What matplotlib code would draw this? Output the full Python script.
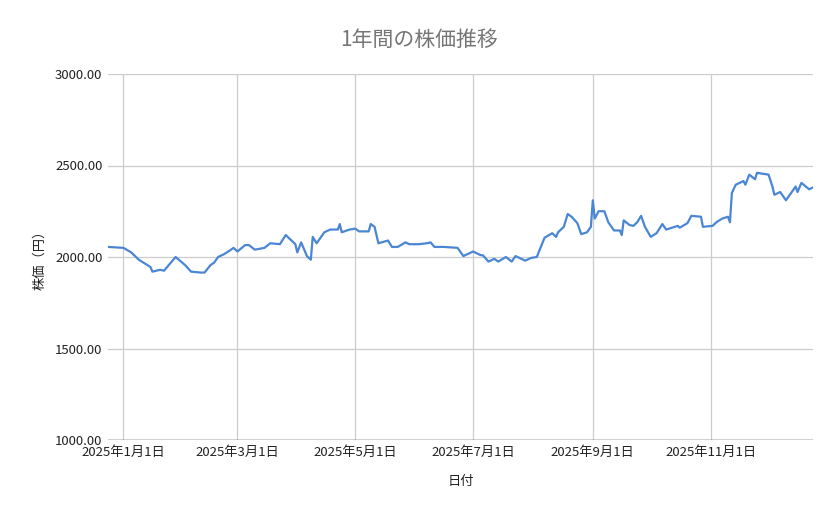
import matplotlib
matplotlib.use('Agg')
import matplotlib.pyplot as plt
import numpy as np
import pandas as pd

plt.rcParams['font.family'] = ['Noto Sans CJK JP', 'DejaVu Sans']

# values (approximate)
dates = [
    '2024-12-24', '2025-01-01', '2025-01-05', '2025-01-09', '2025-01-15', '2025-01-16',
    '2025-01-20', '2025-01-22', '2025-01-28', '2025-02-02', '2025-02-05', '2025-02-10',
    '2025-02-12', '2025-02-15', '2025-02-17', '2025-02-19', '2025-02-22', '2025-02-25',
    '2025-02-27', '2025-03-01', '2025-03-05', '2025-03-07', '2025-03-10', '2025-03-15',
    '2025-03-18', '2025-03-23', '2025-03-26', '2025-03-31', '2025-04-01', '2025-04-03',
    '2025-04-06', '2025-04-08', '2025-04-09', '2025-04-11', '2025-04-15', '2025-04-18',
    '2025-04-22', '2025-04-23', '2025-04-24', '2025-04-28', '2025-05-01', '2025-05-03',
    '2025-05-08', '2025-05-09', '2025-05-11', '2025-05-13', '2025-05-18', '2025-05-20',
    '2025-05-23', '2025-05-27', '2025-05-29', '2025-06-03', '2025-06-07', '2025-06-09',
    '2025-06-11', '2025-06-16', '2025-06-23', '2025-06-26', '2025-07-01', '2025-07-05',
    '2025-07-06', '2025-07-09', '2025-07-12', '2025-07-14', '2025-07-18', '2025-07-21',
    '2025-07-23', '2025-07-28', '2025-07-31', '2025-08-03', '2025-08-07', '2025-08-11',
    '2025-08-13', '2025-08-14', '2025-08-17', '2025-08-19', '2025-08-21', '2025-08-24',
    '2025-08-26', '2025-08-29', '2025-08-31', '2025-09-01', '2025-09-02', '2025-09-04',
    '2025-09-07', '2025-09-09', '2025-09-12', '2025-09-15', '2025-09-16', '2025-09-17',
    '2025-09-20', '2025-09-22', '2025-09-24', '2025-09-26', '2025-09-28', '2025-10-01',
    '2025-10-04', '2025-10-07', '2025-10-09', '2025-10-12', '2025-10-15', '2025-10-16',
    '2025-10-20', '2025-10-21', '2025-10-22', '2025-10-27', '2025-10-28', '2025-11-02',
    '2025-11-04', '2025-11-07', '2025-11-10', '2025-11-11', '2025-11-12', '2025-11-14',
    '2025-11-18', '2025-11-19', '2025-11-21', '2025-11-24', '2025-11-25', '2025-12-01',
    '2025-12-03', '2025-12-04', '2025-12-07', '2025-12-10', '2025-12-15', '2025-12-16',
    '2025-12-18', '2025-12-22', '2025-12-24',
]
prices = [
    2055, 2050, 2025, 1985, 1945, 1920,
    1930, 1925, 2000, 1955, 1920, 1915,
    1915, 1955, 1970, 2000, 2015, 2035,
    2050, 2030, 2065, 2065, 2040, 2050,
    2075, 2070, 2120, 2070, 2025, 2080,
    2005, 1985, 2110, 2075, 2135, 2150,
    2150, 2180, 2135, 2150, 2155, 2140,
    2140, 2180, 2165, 2075, 2090, 2055,
    2055, 2080, 2070, 2070, 2075, 2080,
    2055, 2055, 2050, 2005, 2030, 2010,
    2010, 1975, 1990, 1975, 2000, 1975,
    2005, 1980, 1995, 2000, 2105, 2130,
    2110, 2135, 2165, 2235, 2220, 2185,
    2125, 2135, 2165, 2310, 2210, 2250,
    2250, 2190, 2145, 2145, 2120, 2200,
    2175, 2170, 2190, 2225, 2165, 2110,
    2130, 2180, 2150, 2160, 2170, 2160,
    2185, 2205, 2225, 2220, 2165, 2170,
    2190, 2210, 2220, 2190, 2350, 2395,
    2415, 2395, 2450, 2425, 2460, 2450,
    2385, 2340, 2355, 2310, 2385, 2355,
    2405, 2370, 2380,
]
tick_dates = ['2025-01-01', '2025-03-01', '2025-05-01', '2025-07-01', '2025-09-01', '2025-11-01']
tick_labels = ['2025年1月1日', '2025年3月1日', '2025年5月1日', '2025年7月1日', '2025年9月1日', '2025年11月1日']
y_ticks = [1000, 1500, 2000, 2500, 3000]

x = pd.to_datetime(dates)

fig = plt.figure(figsize=(8.39, 5.19), dpi=100)
ax = fig.add_axes([108 / 839, 1 - 440 / 519, 705 / 839, 366 / 519])
ax.plot(x, prices, color='#4a86d4', linewidth=1.6)

ax.set_xlim(pd.Timestamp('2024-12-24'), pd.Timestamp('2025-12-24'))
ax.set_ylim(1000, 3000)
ax.set_xticks(pd.to_datetime(tick_dates))
ax.set_xticklabels(tick_labels, fontsize=9.5, color='#222222')
ax.set_yticks(y_ticks)
ax.set_yticklabels([f'{v:.2f}' for v in y_ticks], fontsize=9.5, color='#222222')
ax.tick_params(length=0, pad=4)
ax.grid(True, color='#cccccc', linewidth=0.9)
ax.set_axisbelow(True)
for s in ax.spines.values():
    s.set_visible(False)
ax.axhline(1000, color='#333333', linewidth=1)

ax.set_xlabel('日付', fontsize=9.5, color='#222222', labelpad=12)
ax.set_ylabel('株価（円）', fontsize=9.5, color='#222222', labelpad=6)
fig.suptitle('1年間の株価推移', x=0.5, y=1 - 40 / 519, va='center',
             fontsize=15, color='#757575')

fig.savefig('out.png', dpi=100, facecolor='white')
